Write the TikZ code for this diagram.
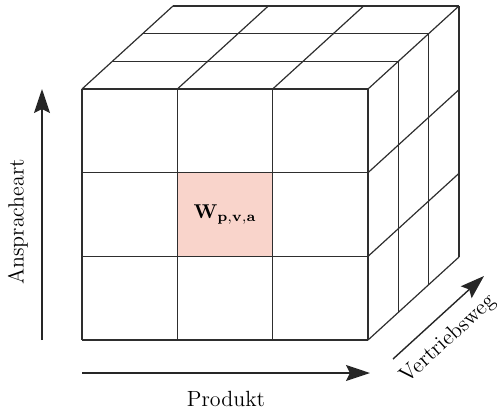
\documentclass[tikz,border=0pt]{standalone}
\usepackage{tikz}
\usetikzlibrary{arrows.meta, positioning, calc}
\definecolor{cellpink}{HTML}{F9D4CB}
\definecolor{gridgray}{HTML}{2E2E2E}

\begin{document}
\begin{tikzpicture}[
  x=0.5pt, y=-0.5pt,
  grid/.style={draw=gridgray, line width=0.6pt},
  axis/.style={-{Stealth[length=12pt, width=8pt, inset=2pt]},
               line width=0.7pt, draw=black!85},
  axislabel/.style={font=\fontsize{11}{13}\selectfont, inner sep=0pt}
]
  \useasboundingbox (0,0) rectangle (497,409);
  \def\cw{95.33} \def\ch{83.67} \def\dx{30.33} \def\dy{27.67}

  % highlighted cell
  \fill[cellpink] (177.33,172.67) rectangle (272.67,256.33);
  \node[font=\fontsize{10}{12}\selectfont] (wcell) at (225,214.5)
    {$\mathbf{W_{p,v,a}}$};

  % front face
  \foreach \i in {0,...,3} {
    \draw[grid] ({82+\i*\cw},89) -- ({82+\i*\cw},340);
    \draw[grid] (82,{89+\i*\ch}) -- (368,{89+\i*\ch});
  }
  % top face
  \foreach \k in {1,2,3}
    \draw[grid] ({82+\k*\dx},{89-\k*\dy}) -- ({368+\k*\dx},{89-\k*\dy});
  \foreach \i in {0,...,3}
    \draw[grid] ({82+\i*\cw},89) -- ++({3*\dx},{-3*\dy});
  % side face
  \foreach \k in {1,2,3}
    \draw[grid] ({368+\k*\dx},{89-\k*\dy}) -- ++(0,251);
  \foreach \j in {1,2,3}
    \draw[grid] (368,{89+\j*\ch}) -- ++({3*\dx},{-3*\dy});

  % axes
  \coordinate (up0) at (42,340);
  \coordinate (up1) at (42,89);
  \draw[axis] (up0) -- (up1);
  \node[axislabel, rotate=90] (anspr) at (18,222) {Anspracheart};

  \coordinate (pr0) at (82,373);
  \coordinate (pr1) at (370,373);
  \draw[axis] (pr0) -- (pr1);
  \node[axislabel] (prod) at (226,399) {Produkt};

  \coordinate (vw0) at (393,359);
  \coordinate (vw1) at (484,276);
  \draw[axis] (vw0) -- node[axislabel, sloped, below=6pt, pos=0.44] (vweg) {Vertriebsweg} (vw1);
\end{tikzpicture}
\end{document}
